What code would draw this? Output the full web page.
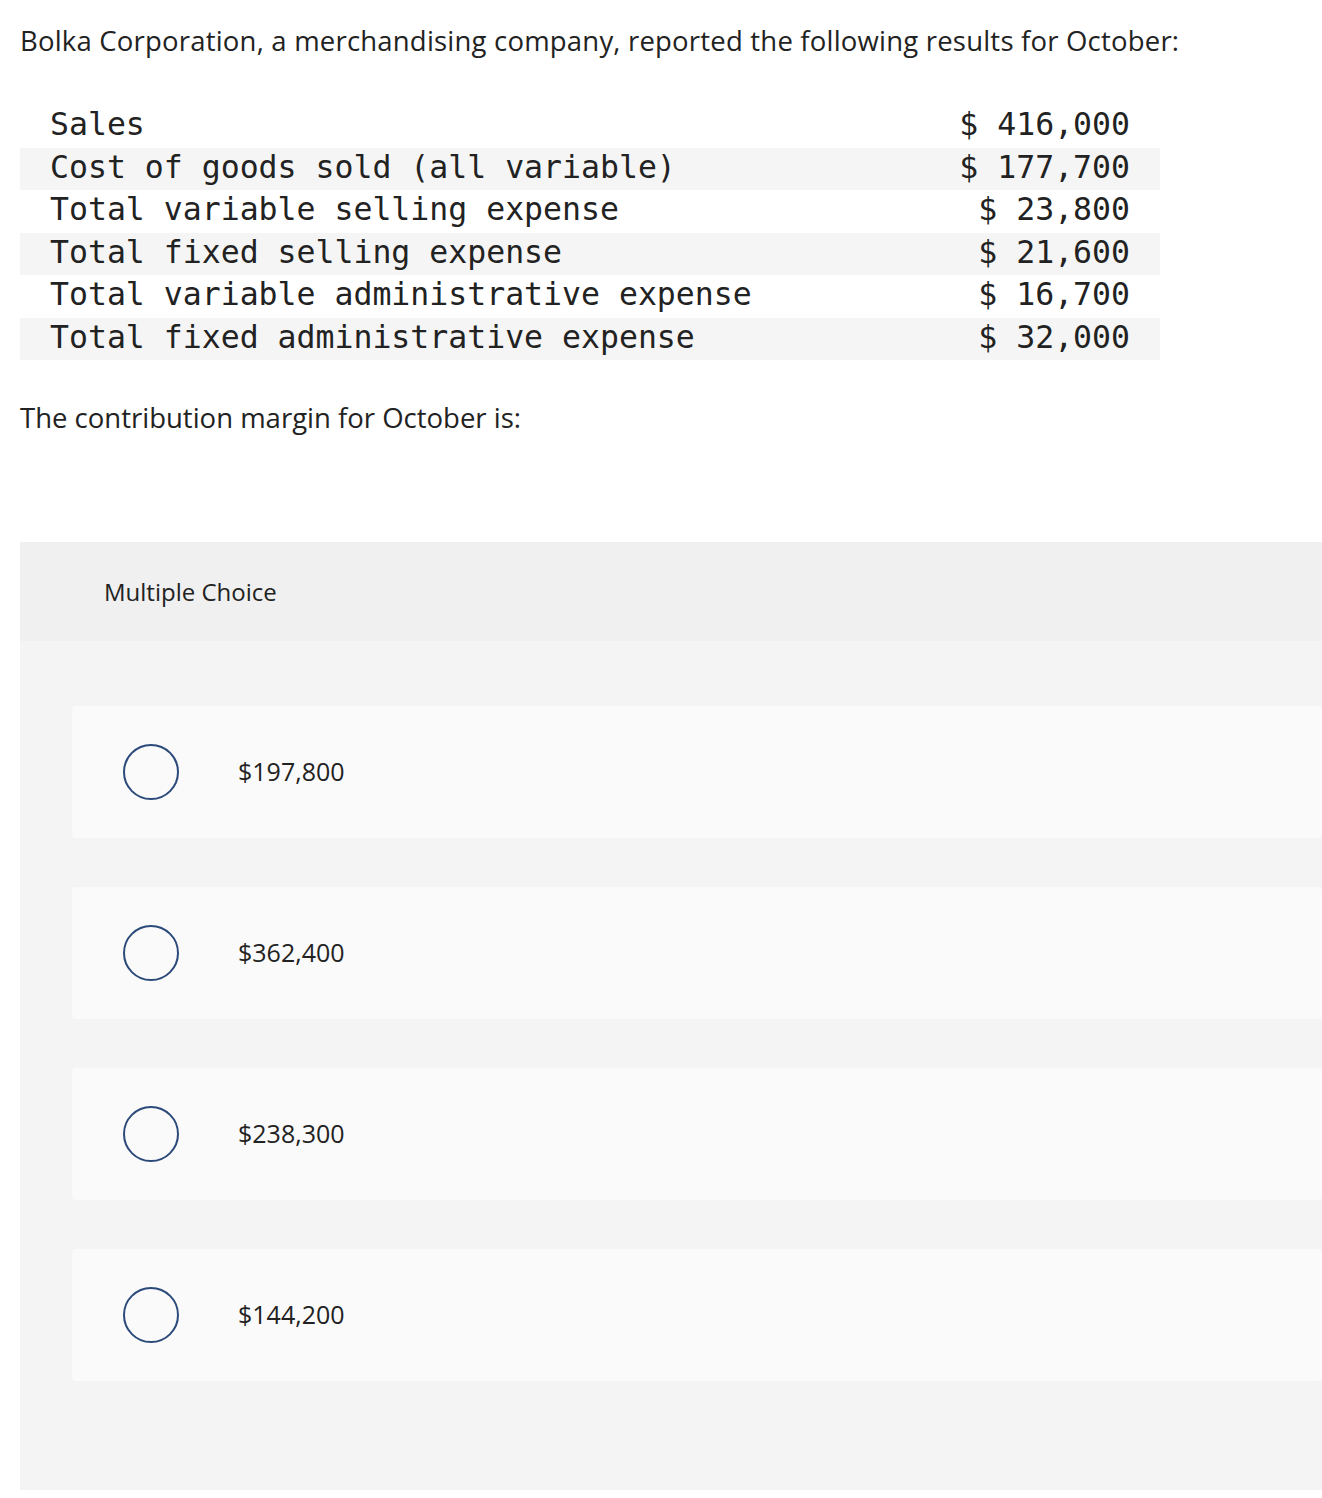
<!DOCTYPE html>
<html><head><meta charset="utf-8">
<script src="https://cdn.jsdelivr.net/npm/chart.js@4"></script>
<style>
body{margin:0;width:1322px;height:1498px;background:#fff;font-family:"Open Sans",Lato,sans-serif;color:#222;position:relative;overflow:hidden}
.abs{position:absolute}
#title{left:20px;top:22px;font-size:27.5px;white-space:nowrap;letter-spacing:0.2px}
#tbl{left:20px;top:105px;width:1140px}
.row{height:42.5px;position:relative;font-family:"DejaVu Sans Mono",monospace;font-size:31.5px;color:#222}
.row:nth-child(even){background:#f5f5f5}
.row .l{position:absolute;left:30px;top:1px}
.row .v{position:absolute;right:30px;top:1px}
#q{left:20px;top:399px;font-size:27.5px}
#box{left:20px;top:542px;width:1302px;height:948px;background:#f4f4f4}
#hdr{left:20px;top:542px;width:1302px;height:99px;background:#f0f0f0}
#mc{left:104px;top:575px;font-size:24px}
.card{left:72px;width:1250px;height:132px;background:#fafafa;border-radius:4px}
.circ{left:123px;width:52px;height:52px;border:2px solid #2b4a7a;border-radius:50%}
.opt{left:238px;font-size:25px}
</style></head><body>
<div id="title" class="abs">Bolka Corporation, a merchandising company, reported the following results for October:</div>
<div id="tbl" class="abs"></div>
<div id="q" class="abs">The contribution margin for October is:</div>
<div id="box" class="abs"></div>
<div id="hdr" class="abs"></div>
<div id="mc" class="abs">Multiple Choice</div>
<div id="opts"></div>
<script>
const rowLabels=["Sales","Cost of goods sold (all variable)","Total variable selling expense","Total fixed selling expense","Total variable administrative expense","Total fixed administrative expense"];
const rowValues=["$ 416,000","$ 177,700","$ 23,800","$ 21,600","$ 16,700","$ 32,000"];
const choices=["$197,800","$362,400","$238,300","$144,200"];
const tbl=document.getElementById('tbl');
rowLabels.forEach((l,i)=>{const r=document.createElement('div');r.className='row';
r.innerHTML='<span class="l"></span><span class="v"></span>';r.children[0].textContent=l;r.children[1].textContent=rowValues[i];tbl.appendChild(r);});
const o=document.getElementById('opts');
choices.forEach((c,i)=>{const top=706+i*181;
const card=document.createElement('div');card.className='abs card';card.style.top=top+'px';o.appendChild(card);
const ci=document.createElement('div');ci.className='abs circ';ci.style.top=(top+38)+'px';o.appendChild(ci);
const t=document.createElement('div');t.className='abs opt';t.style.top=(top+48)+'px';t.textContent=c;o.appendChild(t);});
</script>
</body></html>
